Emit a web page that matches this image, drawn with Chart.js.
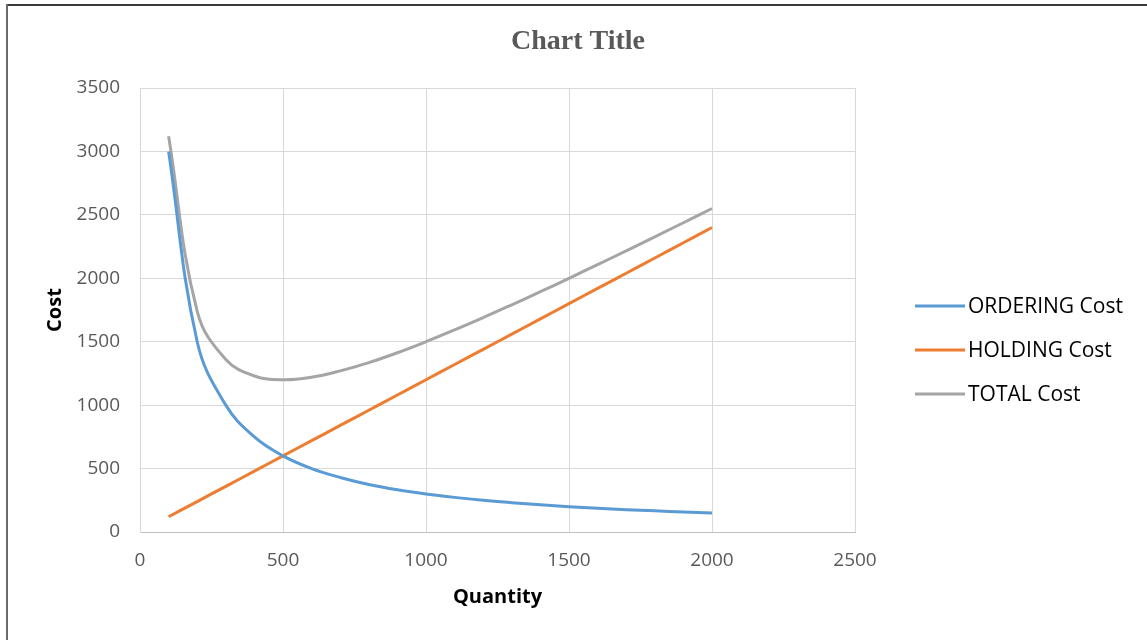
<!DOCTYPE html>
<html>
<head>
<meta charset="utf-8">
<script src="https://cdn.jsdelivr.net/npm/chart.js@4.4.1/dist/chart.umd.min.js"></script>
<style>
  html, body { margin: 0; padding: 0; background: #ffffff; }
  #wrap { position: relative; width: 1147px; height: 640px; overflow: hidden; }
  #c { position: absolute; left: 0; top: 0; }
  .bt { position: absolute; left: 6px; top: 4px; width: 1141px; height: 2px; background: #3a3a3a; }
  .bl { position: absolute; left: 6px; top: 4px; width: 2px; height: 636px; background: #6a6a6a; }
</style>
</head>
<body>
<div id="wrap">
  <canvas id="c" width="1147" height="640"></canvas>
  <div class="bt"></div>
  <div class="bl"></div>
</div>
<script>
// ---- Data ----
const quantities   = [100, 200, 300, 400, 500, 600, 700, 800, 900, 1000, 1100, 1200, 1300, 1400, 1500, 1600, 1700, 1800, 1900, 2000];
const orderingCost = [3000, 1500, 1000, 750, 600, 500, 430, 375, 333, 300, 273, 250, 231, 214, 200, 188, 176, 167, 158, 150];
const holdingCost  = [120, 240, 360, 480, 600, 720, 840, 960, 1080, 1200, 1320, 1440, 1560, 1680, 1800, 1920, 2040, 2160, 2280, 2400];
const totalCost    = [3120, 1740, 1360, 1230, 1200, 1220, 1270, 1335, 1413, 1500, 1593, 1690, 1791, 1894, 2000, 2108, 2216, 2327, 2438, 2550];
const seriesNames  = ['ORDERING Cost', 'HOLDING Cost', 'TOTAL Cost'];
const seriesColors = ['#5B9BD5', '#ED7D31', '#A5A5A5'];
const xTicks = [0, 500, 1000, 1500, 2000, 2500];
const yTicks = [0, 500, 1000, 1500, 2000, 2500, 3000, 3500];
const chartTitle = 'Chart Title';
const xTitle = 'Quantity';
const yTitle = 'Cost';

const toPts = (ys) => quantities.map((q, i) => ({ x: q, y: ys[i] }));
const seriesValues = [orderingCost, holdingCost, totalCost];

const FONT = '"Open Sans", "Liberation Sans", sans-serif';

const titleAndLegend = {
  id: 'titleAndLegend',
  afterDraw(chart) {
    const ctx = chart.ctx;
    ctx.save();
    // Title
    ctx.fillStyle = '#595959';
    ctx.font = 'bold 28px "Liberation Serif", "Times New Roman", serif';
    ctx.textAlign = 'center';
    ctx.textBaseline = 'middle';
    ctx.fillText(chartTitle, 578, 42);
    // Legend
    ctx.font = '21px ' + FONT;
    ctx.textAlign = 'left';
    chart.data.datasets.forEach((ds, i) => {
      const y = 306 + 44 * i;
      ctx.strokeStyle = ds.borderColor;
      ctx.lineWidth = 3;
      ctx.lineCap = 'butt';
      ctx.beginPath();
      ctx.moveTo(915, y);
      ctx.lineTo(965, y);
      ctx.stroke();
      ctx.fillStyle = '#000000';
      ctx.fillText(ds.label, 968, y + 1);
    });
    ctx.restore();
  }
};

new Chart(document.getElementById('c'), {
  type: 'line',
  data: {
    datasets: seriesNames.map((name, i) => ({
      label: name,
      data: toPts(seriesValues[i]),
      borderColor: seriesColors[i],
      backgroundColor: seriesColors[i],
      borderWidth: 3,
      pointRadius: 0,
      pointHoverRadius: 0,
      tension: 0.4,
      fill: false
    }))
  },
  options: {
    responsive: false,
    animation: false,
    devicePixelRatio: 1,
    layout: { padding: { left: 0, right: 292, top: 88, bottom: 0 } },
    plugins: {
      legend: { display: false },
      title: { display: false },
      tooltip: { enabled: false }
    },
    scales: {
      x: {
        type: 'linear',
        min: 0, max: 2500,
        afterBuildTicks: (s) => { s.ticks = xTicks.map(v => ({ value: v })); },
        afterFit: (s) => { s.height = 108; },
        grid: { color: '#d9d9d9', lineWidth: 1, drawTicks: false },
        border: { color: '#bfbfbf', width: 1 },
        ticks: { color: '#595959', font: { family: FONT, size: 19 }, padding: 17, maxRotation: 0, callback: (v) => String(v) },
        title: { display: true, text: xTitle, color: '#000000', font: { family: FONT, size: 20, weight: 'bold' }, padding: { top: 0, bottom: 31 } }
      },
      y: {
        min: 0, max: 3500,
        afterBuildTicks: (s) => { s.ticks = yTicks.map(v => ({ value: v })); },
        afterFit: (s) => { s.width = 140; },
        grid: { color: '#d9d9d9', lineWidth: 1, drawTicks: false },
        border: { color: '#d9d9d9', width: 1 },
        ticks: { color: '#595959', font: { family: FONT, size: 19 }, padding: 20, callback: (v) => String(v) },
        title: { display: true, text: yTitle, color: '#000000', font: { family: FONT, size: 20, weight: 'bold' }, padding: { top: 43, bottom: 0 } }
      }
    }
  },
  plugins: [titleAndLegend]
});
</script>
</body>
</html>
